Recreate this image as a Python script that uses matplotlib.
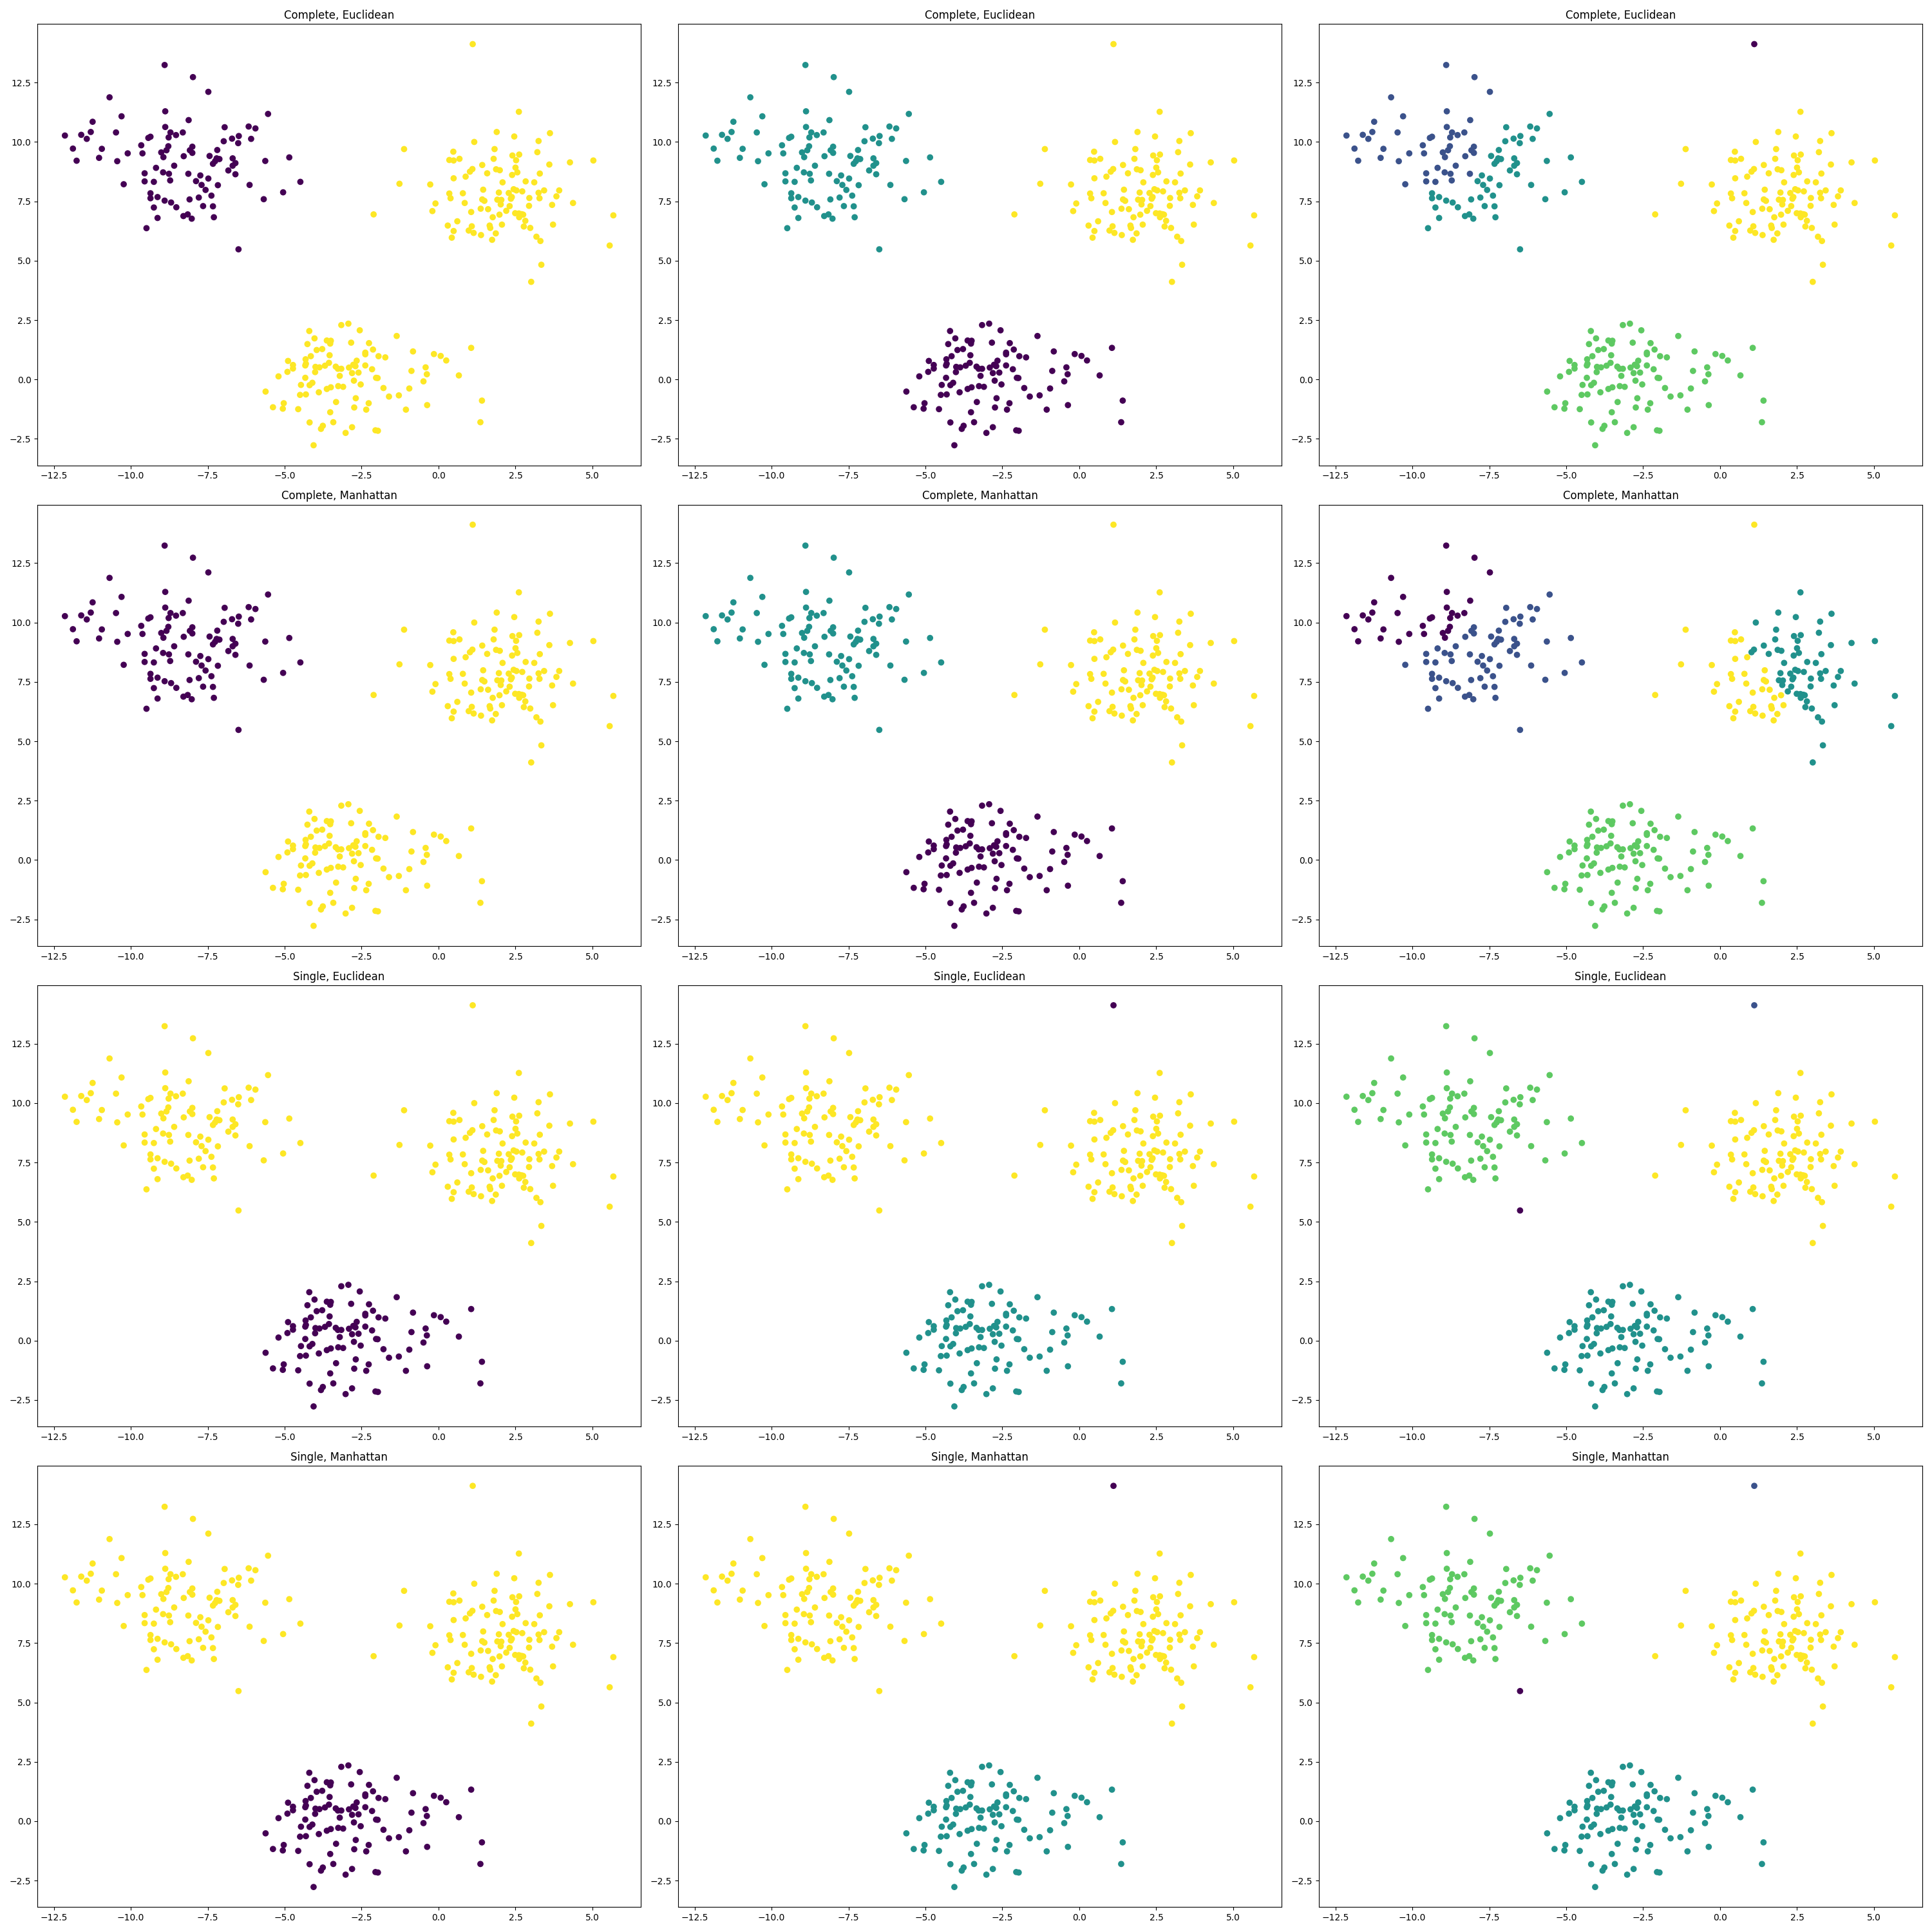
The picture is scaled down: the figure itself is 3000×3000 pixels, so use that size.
import numpy as np
import matplotlib
matplotlib.use('Agg')
import matplotlib.pyplot as plt

#############################################
# Points, grouped by how the clusterings split them
#############################################

# upper-left blob, part that stays together with the far left points
left_top_x = [-12.14, -11.88, -11.76, -11.61, -11.43, -11.30, -11.24, -11.03, -10.94, -10.69,
              -10.48, -10.44, -10.30, -10.10, -9.66, -9.62, -9.43, -9.36, -9.01, -8.90,
              -7.98, -7.48, -8.88, -8.12, -8.88, -8.71, -8.77, -8.53, -8.31, -8.78,
              -8.84, -8.94]
left_top_y = [10.27, 9.72, 9.21, 10.30, 10.13, 10.42, 10.85, 9.33, 9.71, 11.88,
              10.40, 9.19, 11.08, 9.52, 9.86, 9.52, 10.17, 10.22, 9.56, 13.24,
              12.73, 12.11, 11.29, 10.92, 10.63, 10.40, 10.19, 10.29, 10.40, 9.82,
              9.65, 9.36]

# upper-left blob, middle part
left_mid_x = [-10.23, -9.55, -9.55, -9.25, -9.18, -8.00, -8.08, -8.00, -8.28, -8.59,
              -8.95, -8.76, -8.72, -8.13]
left_mid_y = [8.22, 8.68, 8.34, 8.32, 8.91, 9.80, 9.65, 9.54, 9.40, 9.00,
              8.72, 8.66, 8.38, 8.66]

# upper-left blob, lower / right part
left_low_x = [-9.36, -9.36, -9.13, -9.25, -9.13, -9.49, -5.54, -6.95, -6.17, -5.95,
              -6.49, -6.71, -6.98, -6.51, -6.09, -7.19, -7.44, -7.21, -7.12, -7.26,
              -7.33, -6.69, -6.60, -6.69, -6.83, -6.60, -5.63, -4.85, -7.74, -7.48,
              -7.88, -7.70, -7.17, -7.57, -6.14, -4.49, -5.05, -7.38, -7.79, -8.09,
              -5.68, -8.90, -8.69, -8.52, -7.65, -7.33, -8.29, -8.15, -8.02, -7.30]
left_low_y = [7.84, 7.63, 7.68, 7.24, 6.80, 6.37, 11.18, 10.62, 10.65, 10.57,
              10.25, 10.14, 10.03, 9.95, 10.13, 9.66, 9.41, 9.31, 9.28, 9.19,
              9.08, 9.31, 9.11, 9.00, 8.80, 8.64, 9.20, 9.35, 8.59, 8.46,
              8.35, 8.19, 8.18, 7.98, 8.19, 8.32, 7.88, 7.74, 7.66, 7.58,
              7.59, 7.53, 7.45, 7.25, 7.30, 7.29, 6.88, 6.95, 6.77, 6.83]

# lone point below the upper-left blob
stray_x = [-6.50]
stray_y = [5.48]

# upper-right blob, western part
right_west_x = [-1.12, 0.48, 0.35, 0.49, 0.68, 0.49, 0.88, -1.27, -0.27, 0.35,
                0.39, 0.79, -0.10, -0.20, 0.85, 1.06, 1.37, -2.11, 0.61, 0.30,
                0.49, 0.43, 1.08, 0.98, 1.14, 1.38, 1.45, 1.42, 1.49, 1.61,
                1.76, 1.98, 2.06, 1.66, 1.68, 1.86, 1.74]
right_west_y = [9.70, 9.59, 9.24, 9.22, 9.29, 8.47, 8.54, 8.24, 8.21, 7.83,
                7.63, 7.84, 7.41, 7.09, 7.43, 7.05, 7.19, 6.95, 6.66, 6.48,
                6.25, 5.97, 6.45, 6.27, 6.17, 6.08, 7.99, 7.58, 7.52, 7.17,
                6.83, 6.94, 6.52, 6.48, 6.38, 6.15, 5.88]

# upper-right blob, eastern part
right_east_x = [1.16, 1.10, 1.02, 2.61, 1.89, 2.46, 3.62, 3.25, 1.82, 2.40,
                2.62, 3.21, 1.79, 2.52, 1.42, 4.27, 5.03, 3.60, 1.87, 1.99,
                2.50, 2.56, 2.39, 3.29, 1.58, 2.08, 2.83, 3.11, 1.96, 2.28,
                2.44, 2.53, 2.72, 3.25, 3.43, 3.92, 3.83, 3.28, 2.95, 2.35,
                2.38, 1.91, 2.04, 2.02, 2.31, 2.20, 2.94, 3.69, 4.37, 2.49,
                2.61, 2.70, 2.75, 2.62, 2.82, 2.77, 2.98, 3.72, 5.68, 3.18,
                3.31, 5.56, 3.34, 3.01]
right_east_y = [10.00, 8.86, 8.75, 11.27, 10.42, 10.23, 10.37, 10.04, 9.70, 9.43,
                9.47, 9.57, 9.29, 9.23, 9.03, 9.14, 9.22, 9.05, 8.85, 8.81,
                8.92, 8.72, 8.61, 8.67, 8.68, 8.30, 8.34, 8.30, 7.87, 7.85,
                8.01, 7.96, 7.92, 7.86, 7.96, 7.96, 7.71, 7.63, 7.64, 7.61,
                7.68, 7.57, 7.56, 7.37, 7.30, 7.10, 7.31, 7.35, 7.43, 7.00,
                6.99, 6.96, 6.94, 6.83, 6.68, 6.44, 6.38, 6.52, 6.91, 6.01,
                5.83, 5.64, 4.83, 4.11]

# lone point at the top
outlier_x = [1.11]
outlier_y = [14.12]

# lower blob
bottom_x = [-3.16, -2.93, -2.56, -4.20, -4.03, -4.26, -3.63, -3.50, -3.52, -2.84,
            -2.26, -1.36, -3.96, -3.78, -3.54, -2.13, -2.38, -2.38, -1.95, -1.73,
            -0.83, 1.06, -0.15, 0.07, 0.25, -4.89, -4.73, -4.73, -4.32, -4.15,
            -4.33, -4.31, -4.91, -5.20, -4.00, -3.87, -3.69, -3.56, -4.01, -3.34,
            -3.27, -3.16, -2.91, -2.77, -2.66, -2.70, -2.38, -2.16, -2.81, -2.60,
            -3.21, -4.33, -4.47, -4.19, -4.10, -2.75, -2.53, -2.03, -1.98, -0.42,
            -0.38, -0.88, 0.66, -0.49, -0.95, -1.79, -5.62, -4.50, -4.31, -3.89,
            -3.63, -3.50, -3.26, -3.10, -1.61, -1.29, -2.69, -3.33, -5.03, -5.38,
            -5.06, -4.56, -2.74, -2.27, -2.35, -1.06, -0.37, 1.41, -3.52, -4.19,
            -3.42, -3.76, -3.82, -2.81, -3.02, -2.05, -1.97, 1.36, -4.06]
bottom_y = [2.29, 2.35, 2.07, 2.04, 1.73, 1.49, 1.64, 1.63, 1.51, 1.55,
            1.53, 1.83, 1.24, 1.28, 1.02, 1.26, 1.13, 1.06, 0.98, 0.93,
            1.18, 1.33, 1.07, 0.99, 0.80, 0.78, 0.61, 0.46, 0.85, 0.98,
            0.59, 0.66, 0.32, 0.13, 0.53, 0.51, 0.58, 0.70, 0.31, 0.54,
            0.45, 0.45, 0.50, 0.62, 0.79, 0.56, 0.59, 0.43, 0.27, 0.29,
            0.15, 0.07, -0.23, -0.24, -0.14, -0.05, -0.21, 0.07, 0.06, 0.51,
            0.22, 0.36, 0.17, -0.08, -0.38, -0.36, -0.51, -0.65, -0.63, -0.54,
            -0.40, -0.33, -0.28, -0.31, -0.72, -0.67, -0.79, -0.95, -1.00, -1.17,
            -1.23, -1.25, -1.18, -1.00, -1.27, -1.27, -1.08, -0.89, -1.38, -1.81,
            -1.80, -1.95, -2.08, -2.01, -2.25, -2.14, -2.16, -1.80, -2.77]

groups = [
    (left_top_x, left_top_y),
    (left_mid_x, left_mid_y),
    (left_low_x, left_low_y),
    (stray_x, stray_y),
    (right_west_x, right_west_y),
    (right_east_x, right_east_y),
    (outlier_x, outlier_y),
    (bottom_x, bottom_y),
]

# cluster label of each group (same order as groups), for 2, 3 and 5 clusters
row_titles = ['Complete, Euclidean', 'Complete, Manhattan',
              'Single, Euclidean', 'Single, Manhattan']
row_labels = [
    [[0, 0, 0, 0, 1, 1, 1, 1], [1, 1, 1, 1, 2, 2, 2, 0], [1, 1, 2, 2, 4, 4, 0, 3]],
    [[0, 0, 0, 0, 1, 1, 1, 1], [1, 1, 1, 1, 2, 2, 2, 0], [0, 1, 1, 1, 4, 2, 4, 3]],
    [[1, 1, 1, 1, 1, 1, 1, 0], [2, 2, 2, 2, 2, 2, 0, 1], [3, 3, 3, 0, 4, 4, 1, 2]],
    [[1, 1, 1, 1, 1, 1, 1, 0], [2, 2, 2, 2, 2, 2, 0, 1], [3, 3, 3, 0, 4, 4, 1, 2]],
]

fig, axes = plt.subplots(4, 3, figsize=(30, 30))

for row in range(4):
    for col in range(3):
        ax = axes[row, col]
        xs, ys, cs = [], [], []
        for (gx, gy), lab in zip(groups, row_labels[row][col]):
            xs += gx
            ys += gy
            cs += [lab] * len(gx)
        ax.scatter(np.array(xs), np.array(ys), c=np.array(cs))
        ax.set_title(row_titles[row])

fig.tight_layout()
fig.savefig('out.png', dpi=100)
